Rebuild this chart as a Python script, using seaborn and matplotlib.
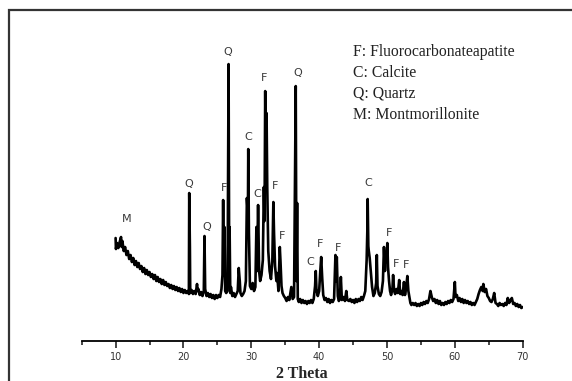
import seaborn as sns
import pandas as pd
import matplotlib.pyplot as plt
from matplotlib.patches import Rectangle
from matplotlib.ticker import MultipleLocator

# XRD trace (intensity in arbitrary units)
two_theta = [
    10.0, 10.05, 10.2, 10.4, 10.6, 10.8, 10.9, 11.0, 11.2, 11.4, 11.6, 11.8,
    12.0, 12.2, 12.4, 12.6, 12.8, 13.0, 13.2, 13.4, 13.6, 13.8,
    14.0, 14.2, 14.4, 14.6, 14.8, 15.0, 15.2, 15.4, 15.6, 15.8,
    16.0, 16.2, 16.4, 16.6, 16.8, 17.0, 17.2, 17.4, 17.6, 17.8,
    18.0, 18.2, 18.4, 18.6, 18.8, 19.0, 19.2, 19.4, 19.6, 19.8,
    20.0, 20.2, 20.4, 20.6, 20.8, 20.85, 20.95, 21.0, 21.2, 21.4, 21.6, 21.8,
    22.0, 22.1, 22.2, 22.4, 22.6, 22.8, 23.0, 23.1, 23.2, 23.4, 23.6, 23.8,
    24.0, 24.2, 24.4, 24.6, 24.8, 25.0, 25.2, 25.4, 25.6, 25.75, 25.85, 25.95,
    26.05, 26.15, 26.3, 26.5, 26.65, 26.75, 26.8, 26.9, 27.0, 27.2, 27.4, 27.6,
    27.8, 28.0, 28.15, 28.3, 28.4, 28.6, 28.8, 29.0, 29.2, 29.35, 29.5, 29.55,
    29.65, 29.8, 30.0, 30.2, 30.4, 30.6, 30.75, 30.85, 31.0, 31.15, 31.3, 31.5,
    31.7, 31.85, 31.95, 32.05, 32.15, 32.25, 32.35, 32.5, 32.7, 32.9, 33.1, 33.25,
    33.35, 33.5, 33.7, 33.8, 34.0, 34.2, 34.3, 34.45, 34.6, 34.8, 35.0, 35.2,
    35.4, 35.6, 35.9, 36.1, 36.3, 36.55, 36.65, 36.75, 36.85, 37.0, 37.2, 37.4,
    37.6, 37.8, 38.0, 38.2, 38.4, 38.6, 38.8, 39.0, 39.2, 39.4, 39.5, 39.6,
    39.8, 40.0, 40.15, 40.3, 40.45, 40.6, 40.8, 41.0, 41.2, 41.4, 41.6, 41.8,
    42.0, 42.2, 42.4, 42.5, 42.6, 42.75, 42.9, 43.05, 43.2, 43.35, 43.6, 43.8,
    44.0, 44.15, 44.4, 44.6, 44.8, 45.0, 45.2, 45.4, 45.6, 45.8, 46.0, 46.2,
    46.4, 46.6, 46.8, 47.0, 47.1, 47.15, 47.25, 47.3, 47.45, 47.6, 47.8, 48.0,
    48.2, 48.4, 48.5, 48.6, 48.8, 49.0, 49.2, 49.4, 49.55, 49.7, 49.8, 49.9,
    50.05, 50.15, 50.3, 50.45, 50.6, 50.8, 50.9, 51.05, 51.2, 51.4, 51.6, 51.8,
    51.95, 52.1, 52.3, 52.5, 52.65, 52.8, 53.0, 53.15, 53.3, 53.45, 53.6, 53.8,
    54.0, 54.2, 54.4, 54.6, 54.8, 55.0, 55.2, 55.4, 55.6, 55.8, 56.0, 56.2,
    56.4, 56.6, 56.8, 57.0, 57.2, 57.4, 57.6, 57.8, 58.0, 58.2, 58.4, 58.6,
    58.8, 59.0, 59.2, 59.4, 59.6, 59.8, 60.0, 60.1, 60.3, 60.5, 60.7, 60.9,
    61.1, 61.3, 61.5, 61.7, 61.9, 62.1, 62.3, 62.5, 62.7, 62.9, 63.1, 63.3,
    63.5, 63.7, 63.9, 64.1, 64.2, 64.4, 64.6, 64.8, 65.0, 65.2, 65.4, 65.6,
    65.8, 66.0, 66.2, 66.4, 66.6, 66.8, 67.0, 67.2, 67.4, 67.6, 67.8, 68.0,
    68.2, 68.4, 68.6, 68.8, 69.0, 69.2, 69.4, 69.6, 69.8, 70.0,
]
intensity = [
    103, 92, 98, 93, 99, 104, 94, 100, 90, 94, 86, 90,
    82, 86, 79, 83, 76, 80, 74, 78, 72, 75,
    69, 73, 67, 71, 66, 69, 64, 67, 62, 66,
    60, 64, 59, 62, 57, 61, 56, 59, 55, 57,
    53, 56, 52, 55, 51, 54, 50, 53, 49, 52,
    48, 51, 48, 50, 47, 148, 94, 48, 51, 47, 50, 47,
    57, 50, 52, 46, 49, 45, 50, 105, 52, 45, 48, 44,
    47, 43, 46, 42, 46, 43, 46, 44, 52, 66, 141, 66,
    114, 50, 48, 50, 277, 60, 114, 48, 54, 45, 48, 44,
    47, 50, 73, 60, 48, 45, 47, 50, 60, 143, 125, 192,
    108, 55, 52, 58, 50, 54, 114, 70, 136, 70, 60, 66,
    81, 154, 120, 250, 160, 228, 154, 90, 70, 62, 80, 139,
    108, 75, 60, 68, 50, 94, 80, 55, 48, 45, 43, 40,
    44, 41, 54, 42, 44, 255, 60, 138, 42, 39, 42, 38,
    41, 38, 40, 37, 40, 38, 41, 38, 42, 55, 70, 52,
    45, 50, 68, 84, 63, 46, 41, 43, 39, 42, 38, 41,
    39, 42, 86, 60, 84, 45, 40, 42, 64, 41, 44, 40,
    50, 41, 40, 42, 39, 41, 38, 42, 39, 42, 40, 44,
    41, 45, 50, 81, 110, 142, 95, 91, 83, 70, 54, 45,
    48, 58, 86, 55, 47, 45, 49, 60, 94, 70, 88, 80,
    98, 74, 60, 50, 46, 52, 66, 50, 47, 52, 48, 61,
    47, 50, 46, 59, 46, 52, 65, 50, 44, 38, 36, 38,
    36, 38, 35, 37, 35, 38, 36, 39, 37, 40, 38, 42,
    50, 44, 40, 42, 38, 41, 37, 40, 36, 38, 36, 39,
    37, 40, 38, 41, 39, 42, 59, 44, 46, 40, 43, 39,
    42, 38, 41, 38, 40, 37, 39, 36, 38, 36, 39, 42,
    47, 51, 54, 50, 57, 49, 52, 45, 43, 40, 39, 42,
    48, 38, 37, 35, 38, 36, 37, 35, 38, 36, 43, 38,
    41, 43, 37, 38, 35, 37, 34, 36, 33, 34,
]

# phase labels above the peaks
label_text = ["M", "Q", "Q", "F", "Q", "C", "C", "F", "F", "F", "Q", "C",
              "F", "F", "C", "F", "F", "F"]
label_x = [11.7, 20.8, 23.5, 26.0, 26.6, 29.5, 30.9, 31.9, 33.5, 34.5, 36.8,
           38.75, 40.2, 42.8, 47.2, 50.3, 51.3, 52.75]
label_y = [122, 157, 114, 153, 289, 204, 147, 263, 155, 105, 268, 79, 97, 93,
           158, 108, 77, 76]

legend_lines = ["F: Fluorocarbonateapatite", "C: Calcite", "Q: Quartz",
                "M: Montmorillonite"]

df = pd.DataFrame({"2 Theta": two_theta, "Intensity": intensity})

sns.set_style("white")
fig = plt.figure(figsize=(5.72, 3.81), dpi=100)
ax = fig.add_axes([0.1428, 0.105, 0.771, 0.816])

sns.lineplot(data=df, x="2 Theta", y="Intensity", color="black", lw=1.9,
             sort=False, estimator=None, ax=ax)

for t, x, y in zip(label_text, label_x, label_y):
    ax.text(x, y, t, ha="center", va="center", fontsize=8,
            color="#3a3a3a", family="DejaVu Sans")

for i, line in enumerate(legend_lines):
    fig.text(353 / 572, 1 - (52 + 21 * i) / 381, line, ha="left", va="center",
             fontsize=11.3, family="Liberation Serif", color="#222222")

ax.set_xlim(5, 70)
ax.set_ylim(0, 311)
ax.xaxis.set_minor_locator(MultipleLocator(5))
ax.set_xticks([10, 20, 30, 40, 50, 60, 70])
ax.tick_params(axis="x", which="major", direction="out", length=5, width=1.2,
               labelsize=7, labelcolor="#333333", pad=3, bottom=True)
ax.tick_params(axis="x", which="minor", direction="out", length=3, width=1.2,
               bottom=True)
ax.set_yticks([])
ax.set_ylabel("")
for s in ["left", "right", "top"]:
    ax.spines[s].set_visible(False)
ax.spines["bottom"].set_linewidth(1.3)
ax.spines["bottom"].set_color("black")
ax.set_xlabel("2 Theta", fontsize=11.5, fontweight="bold",
              family="Liberation Serif", labelpad=3)
ax.patch.set_alpha(0)

# outer frame of the figure
fig.patches.append(Rectangle((8.5 / 572, -0.2), 1.2, 1.2 - 10 / 381,
                             transform=fig.transFigure, fill=False,
                             edgecolor="#333333", lw=1.6))

fig.savefig("out.png", dpi=100)
